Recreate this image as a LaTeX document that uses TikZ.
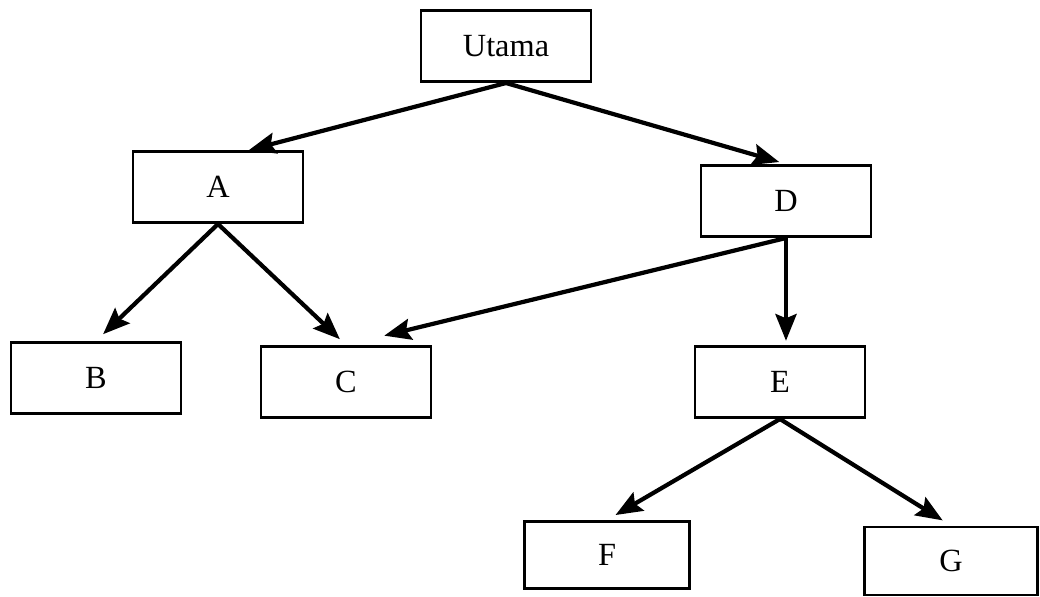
\documentclass[tikz,border=0pt]{standalone}
\usepackage{fontspec}
\setmainfont{Liberation Serif}
\usetikzlibrary{arrows.meta,calc}

\tikzset{
  kotak/.style={draw,line width=2pt,minimum width=4.25cm,minimum height=1.78cm,
                inner sep=0pt,font=\fontsize{23}{28}\selectfont},
  panah/.style={line width=3pt,-{Stealth[length=19pt,width=15pt,inset=3pt]}}
}

\begin{document}
\begin{tikzpicture}[x=0.025cm,y=-0.025cm]
       \useasboundingbox(0,0)rectangle(1040,597);%batas gambar

       \node[kotak](utama)at(506,46){Utama};%akar
       \node[kotak](A)at(218,187){A};%anak kiri
       \node[kotak](D)at(786,201){D};%anak kanan
       \node[kotak](B)at(96,378){B};
       \node[kotak](C)at(346,382){C};
       \node[kotak](E)at(780,382){E};
       \node[kotak,minimum width=4.12cm,minimum height=1.68cm](F)at(607,555){F};
       \node[kotak,minimum width=4.33cm,minimum height=1.7cm](G)at(951,561){G};

       \draw[panah](utama.south)--(A.50);%Utama ke A
       \draw[panah,shorten >=5pt](utama.south)--(D.north);%Utama ke D
       \draw[panah,shorten >=7pt](A.south)--(B.north);%A ke B
       \draw[panah,shorten >=6pt](A.south)--(C.north);%A ke C
       \draw[panah,shorten >=28pt](D.south)--(C.north);%D ke C
       \draw[panah,shorten >=3pt](D.south)--(D.south|-E.north);%D ke E
       \draw[panah,shorten >=7pt](E.south)--(F.north);%E ke F
       \draw[panah,shorten >=7pt](E.south)--(G.north);%E ke G

\end{tikzpicture}
\end{document}
